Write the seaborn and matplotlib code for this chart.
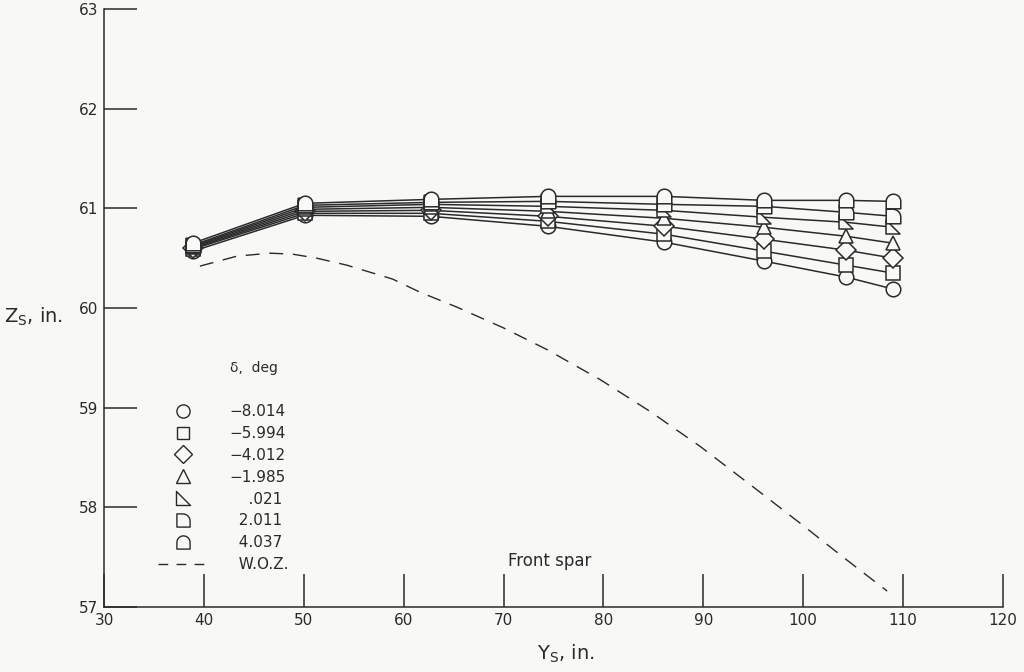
import numpy as np
import pandas as pd
import matplotlib
matplotlib.use("Agg")
import matplotlib.pyplot as plt
from matplotlib.path import Path
from matplotlib.lines import Line2D
import seaborn as sns

# ---------------- data ----------------
ys_stations = [38.9, 50.1, 62.7, 74.4, 86.1, 96.1, 104.3, 109.0]
delta_labels = ["\u22128.014", "\u22125.994", "\u22124.012", "\u22121.985",
                "\u2007\u2007.021", "\u20072.011", "\u20074.037"]
zs_m8014 = [60.57, 60.93, 60.92, 60.82, 60.66, 60.47, 60.31, 60.19]
zs_m5994 = [60.59, 60.95, 60.95, 60.87, 60.74, 60.57, 60.43, 60.35]
zs_m4012 = [60.60, 60.97, 60.98, 60.92, 60.82, 60.69, 60.58, 60.50]
zs_m1985 = [60.61, 60.99, 61.01, 60.97, 60.90, 60.81, 60.72, 60.65]
zs_p0021 = [60.62, 61.01, 61.04, 61.02, 60.98, 60.91, 60.86, 60.81]
zs_p2011 = [60.63, 61.03, 61.06, 61.07, 61.04, 61.02, 60.96, 60.92]
zs_p4037 = [60.65, 61.05, 61.09, 61.12, 61.12, 61.08, 61.08, 61.07]

woz_ys = [39.6, 43.3, 46.6, 48.9, 51.3, 54.3, 58.9, 61.6, 65.3, 70.0,
          74.4, 79.7, 84.7, 89.7, 95.7, 99.7, 104.0, 108.4]
woz_zs = [60.42, 60.52, 60.55, 60.54, 60.50, 60.43, 60.29, 60.16, 60.01, 59.80,
          59.58, 59.28, 58.96, 58.61, 58.15, 57.84, 57.50, 57.16]

x_ticks = [30, 40, 50, 60, 70, 80, 90, 100, 110, 120]
y_ticks = [57, 58, 59, 60, 61, 62, 63]

# ---------------- custom marker shapes ----------------
def right_tri():
    v = [(-1, 1), (-1, -1), (1, -1), (-1, 1)]
    return Path(v, [Path.MOVETO, Path.LINETO, Path.LINETO, Path.CLOSEPOLY])

def quarter_d():
    t = np.linspace(np.pi / 2, 0.0, 20)
    arc = [(-0.1 + 1.1 * np.cos(a), -0.1 + 1.1 * np.sin(a)) for a in t]
    v = [(-1, -1), (-1, 1)] + [(-0.1, 1)] + arc[1:] + [(1, -1), (-1, -1)]
    codes = [Path.MOVETO] + [Path.LINETO] * (len(v) - 2) + [Path.CLOSEPOLY]
    return Path(v, codes)

def arch():
    t = np.linspace(0, np.pi, 24)
    arc = [(np.cos(a), 0.0 + np.sin(a)) for a in t]
    v = [(-1, -1), (1, -1)] + arc + [(-1, -1)]
    codes = [Path.MOVETO] + [Path.LINETO] * (len(v) - 2) + [Path.CLOSEPOLY]
    return Path(v, codes)

series = [zs_m8014, zs_m5994, zs_m4012, zs_m1985, zs_p0021, zs_p2011, zs_p4037]
markers = ["o", "s", "D", "^", right_tri(), quarter_d(), arch()]
msizes = [10.5, 9.5, 10, 10.5, 10.5, 10.5, 10.5]

# ---------------- styling ----------------
sns.set_theme(style="ticks")
plt.rcParams["font.family"] = ["DejaVu Sans"]
plt.rcParams["mathtext.fontset"] = "dejavusans"
bg = "#f8f8f6"
ink = "#2a2a2a"

fig = plt.figure(figsize=(10.24, 6.72), dpi=100, facecolor=bg)
ax = fig.add_axes([104 / 1024, 1 - 607 / 672, (1003 - 104) / 1024, (607 - 9) / 672])
ax.set_facecolor(bg)

for zs, mk, ms in zip(series, markers, msizes):
    df = pd.DataFrame({"Y": ys_stations, "Z": zs})
    sns.lineplot(data=df, x="Y", y="Z", ax=ax, color=ink, lw=1.1,
                 marker=mk, markersize=ms, markerfacecolor=bg,
                 markeredgecolor=ink, markeredgewidth=1.1, sort=False)

df_woz = pd.DataFrame({"Y": woz_ys, "Z": woz_zs})
sns.lineplot(data=df_woz, x="Y", y="Z", ax=ax, color=ink, lw=1.0,
             dashes=False, sort=False)
ax.lines[-1].set_dashes((10, 7))

ax.set_xlim(30, 120)
ax.set_ylim(57, 63)
ax.set_xticks(x_ticks)
ax.set_yticks(y_ticks)
ax.set_xticklabels([str(t) for t in x_ticks])
ax.set_yticklabels([str(t) for t in y_ticks])
ax.tick_params(axis="both", direction="in", length=24, width=1.1, color=ink,
               labelsize=11, labelcolor=ink, pad=4)
ax.tick_params(axis="x", pad=4)
for s in ["top", "right"]:
    ax.spines[s].set_visible(False)
for s in ["left", "bottom"]:
    ax.spines[s].set_color(ink)
    ax.spines[s].set_linewidth(1.1)

ax.set_xlabel("$\\mathregular{Y_S}$, in.", fontsize=14, color=ink)
ax.xaxis.set_label_coords((566 - 104) / 899, -0.06)
ax.set_ylabel("$\\mathregular{Z_S}$, in.", fontsize=14, color=ink, rotation=0,
              ha="right", va="center")
ax.yaxis.set_label_coords(-0.046, (607 - 317) / 598)

# legend
handles = [Line2D([], [], ls="none", marker=mk, markersize=ms - 1,
                  markerfacecolor=bg, markeredgecolor=ink, markeredgewidth=1.0)
           for mk, ms in zip(markers, msizes)]
handles.append(Line2D([], [], color=ink, lw=1.0, dashes=(7, 6)))
labels = delta_labels + ["\u2007W.O.Z."]
leg = ax.legend(handles, labels, loc="upper left",
                bbox_to_anchor=((158 - 104) / 899, (607 - 404) / 598),
                frameon=False, fontsize=11, handlelength=3.3,
                handletextpad=1.37, labelspacing=0.45, borderpad=0,
                borderaxespad=0)
for t in leg.get_texts():
    t.set_color(ink)

ax.text(45.0, 59.40, "\u03b4,  deg", fontsize=10, color=ink, ha="center", va="center")
ax.text(74.6, 57.46, "Front spar", fontsize=12, color=ink, ha="center", va="center")

fig.savefig("out.png", dpi=100, facecolor=bg)
